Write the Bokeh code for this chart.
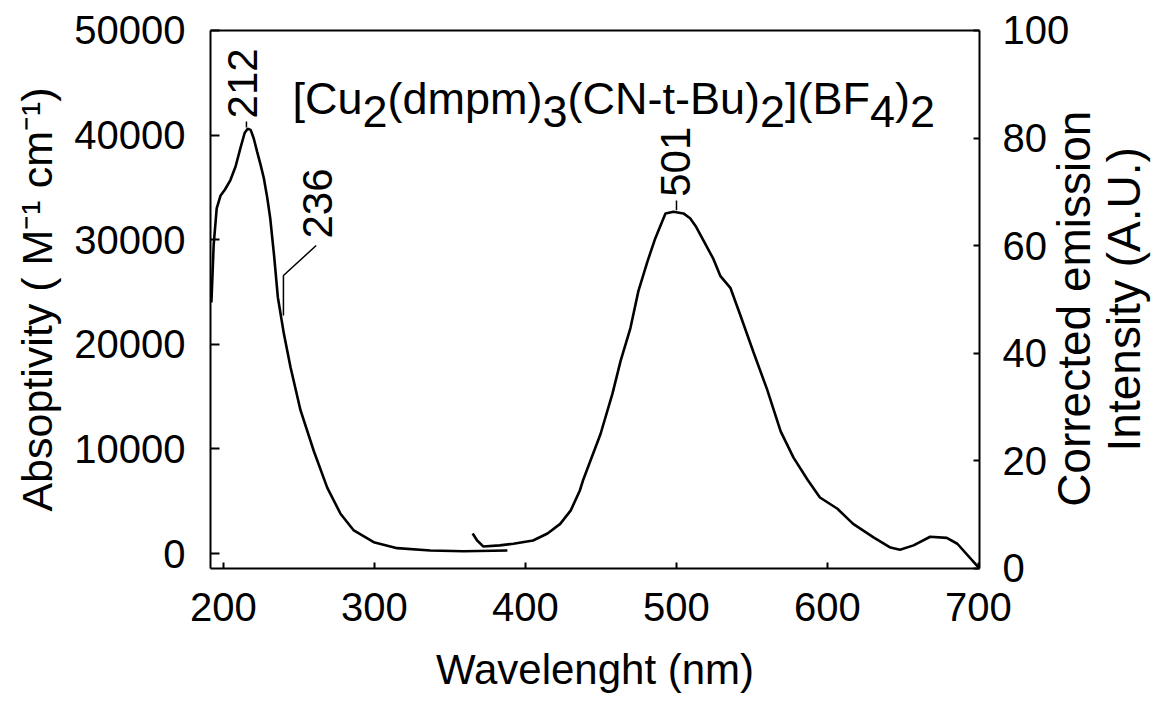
import math
from bokeh.plotting import figure
from bokeh.models import Range1d, LinearAxis, Label, FixedTicker
from bokeh.embed import file_html
from bokeh.resources import INLINE

# ---- data ----
abs_nm = [192, 193.5, 195.5, 198, 201, 204.6, 208, 211.3, 214, 216, 218, 220,
          222.3, 224.5, 226.7, 229, 231, 233.5, 236, 240, 244.4, 251, 259.8,
          268.7, 277.5, 286.3, 299.5, 315, 337, 359, 388]
abs_val = [24000, 29500, 33000, 34200, 34800, 35700, 37000, 38800, 40200, 40600,
           40500, 39700, 38400, 37200, 35900, 34000, 32000, 28500, 24500, 21000,
           17800, 13700, 9800, 6300, 3800, 2200, 1080, 510, 290, 220, 290]

em_nm = [365, 368, 372, 383, 392, 405, 414.6, 423, 430, 436, 438, 449.7, 457.6,
         463, 469.5, 474.8, 480.8, 486, 492.7, 498, 504.6, 509, 513, 518, 524.5,
         529, 535.8, 542, 551, 560, 569, 577.5, 586.8, 595, 606.6, 617, 630.5,
         641.7, 648, 657, 668, 679, 686, 700]
em_val = [6.5, 5.2, 4.1, 4.3, 4.6, 5.2, 6.5, 8.3, 10.8, 14.5, 16.3, 25.0, 32.5,
          38.6, 44.7, 51.6, 57.1, 61.4, 66.0, 66.3, 66.0, 65.1, 63.5, 60.9, 57.5,
          54.4, 52.1, 47.3, 40.2, 33.3, 25.5, 20.6, 16.5, 13.2, 11.1, 8.3, 5.8,
          3.9, 3.5, 4.3, 5.9, 5.7, 4.6, 0.2]

x_ticks = [200, 300, 400, 500, 600, 700]
left_ticks = [0, 10000, 20000, 30000, 40000, 50000]
right_ticks = [0, 20, 40, 60, 80, 100]

# extent of the drawn box in data units
X_MIN, X_MAX = 191.4, 700.6
ABS_MIN, ABS_MAX = -1434, 50000
EM_MIN, EM_MAX = 0, 100

peak_labels = ["212", "236", "501"]
right_label_lines = ["Corrected emission", "Intensity (A.U.)"]
x_label = "Wavelenght (nm)"
y_label = "Absoptivity ( M\u207b\u00b9 cm\u207b\u00b9)"

title_parts = ["[Cu", "2", "(dmpm)", "3", "(CN-t-Bu)", "2", "](BF", "4", ")", "2"]
title_is_sub = [False, True, False, True, False, True, False, True, False, True]
# Arial advance widths (1/1000 em) used to lay the pieces side by side
adv = {"[": 278, "]": 278, "(": 333, ")": 333, "C": 722, "u": 556, "d": 556,
       "m": 833, "p": 556, "N": 722, "-": 333, "t": 278, "B": 667, "F": 611,
       "2": 556, "3": 556, "4": 556}

FONT = "Liberation Sans"

# The plotting area covers the whole 1157 x 711 canvas; the box itself spans
# 210..979 px horizontally and 30..568 px vertically (1.51 px per nm).
p = figure(width=1157, height=711,
           x_range=Range1d(X_MIN - 210 / 1.51, X_MIN + 947 / 1.51),
           y_range=Range1d(-15105, 52868),
           output_backend="svg", toolbar_location=None,
           min_border_left=0, min_border_right=0,
           min_border_top=0, min_border_bottom=0)
p.extra_y_ranges = {"em": Range1d(-26.58, 105.576)}
p.grid.visible = False
p.outline_line_color = None
p.background_fill_color = "white"
p.border_fill_color = "white"

def style_axis(ax, tick_in, standoff, label_size, label_standoff):
    ax.axis_line_width = 2
    ax.axis_line_color = "black"
    ax.major_tick_in = tick_in
    ax.major_tick_out = 0
    ax.major_tick_line_width = 2
    ax.minor_tick_line_color = None
    ax.major_label_text_font = FONT
    ax.major_label_text_font_size = "40px"
    ax.major_label_text_color = "black"
    ax.major_label_standoff = standoff
    ax.axis_label_text_font = FONT
    ax.axis_label_text_font_size = label_size
    ax.axis_label_text_font_style = "normal"
    ax.axis_label_text_color = "black"
    ax.axis_label_standoff = label_standoff

# bottom axis, drawn at the bottom edge of the box
xa = p.xaxis[0]
xa.ticker = FixedTicker(ticks=x_ticks)
xa.bounds = (X_MIN, X_MAX)
xa.fixed_location = ABS_MIN
xa.axis_label = x_label
style_axis(xa, 6, 24, "42px", 22)

# left axis at the left edge of the box
ya = p.yaxis[0]
ya.ticker = FixedTicker(ticks=left_ticks)
ya.bounds = (ABS_MIN, ABS_MAX)
ya.fixed_location = X_MIN
ya.axis_label = y_label
style_axis(ya, 9, 25, "43px", 10)

# top edge of the box
ta = LinearAxis(ticker=FixedTicker(ticks=[]), bounds=(X_MIN, X_MAX),
                fixed_location=ABS_MAX)
ta.axis_line_width = 2
ta.axis_line_color = "black"
ta.major_tick_line_color = None
ta.minor_tick_line_color = None
ta.major_label_text_color = None
p.add_layout(ta, "above")

# right-hand (emission) axis drawn at the right edge of the box
ra = LinearAxis(y_range_name="em", ticker=FixedTicker(ticks=right_ticks),
                bounds=(EM_MIN, EM_MAX), fixed_location=X_MAX)
style_axis(ra, 6, 23, "46px", 0)
p.add_layout(ra, "right")

# right-hand axis title, two rotated lines reading upwards
rl_kw = dict(text_font=FONT, text_font_size="46px", text_color="black",
             angle=math.pi / 2, text_align="center", text_baseline="alphabetic")
p.add_layout(Label(x=763.4, y=23400, text=right_label_lines[0], **rl_kw))
p.add_layout(Label(x=796.4, y=24300, text=right_label_lines[1], **rl_kw))

# curves
p.line(abs_nm, abs_val, line_color="black", line_width=2.6)
p.line(em_nm, em_val, line_color="black", line_width=2.6, y_range_name="em")

# peak annotations
lab_kw = dict(text_font=FONT, text_font_size="42px", text_color="black",
              angle=math.pi / 2, text_align="left", text_baseline="middle")
p.add_layout(Label(x=212.6, y=41590, text=peak_labels[0], **lab_kw))
p.add_layout(Label(x=262.3, y=30115, text=peak_labels[1], **lab_kw))
p.add_layout(Label(x=499.3, y=69.1, text=peak_labels[2], y_range_name="em", **lab_kw))

p.line([215.2, 215.2], [41300, 40730], line_color="black", line_width=1.5)
p.line([261.4, 239.7, 239.7], [29445, 26577, 22753], line_color="black", line_width=1.5)
p.line([500, 500], [68.4, 66.6], line_color="black", line_width=1.5, y_range_name="em")

# compound formula with subscripts
size = 45
off = 0.0
for part, sub in zip(title_parts, title_is_sub):
    p.add_layout(Label(x=245.7, y=(42250 if sub else 43500), x_offset=off, text=part,
                       text_font=FONT, text_font_size=f"{size}px", text_color="black",
                       text_align="left", text_baseline="alphabetic"))
    off += sum(adv[c] for c in part) * size / 1000.0

open("out.html", "w").write(file_html(p, INLINE))
